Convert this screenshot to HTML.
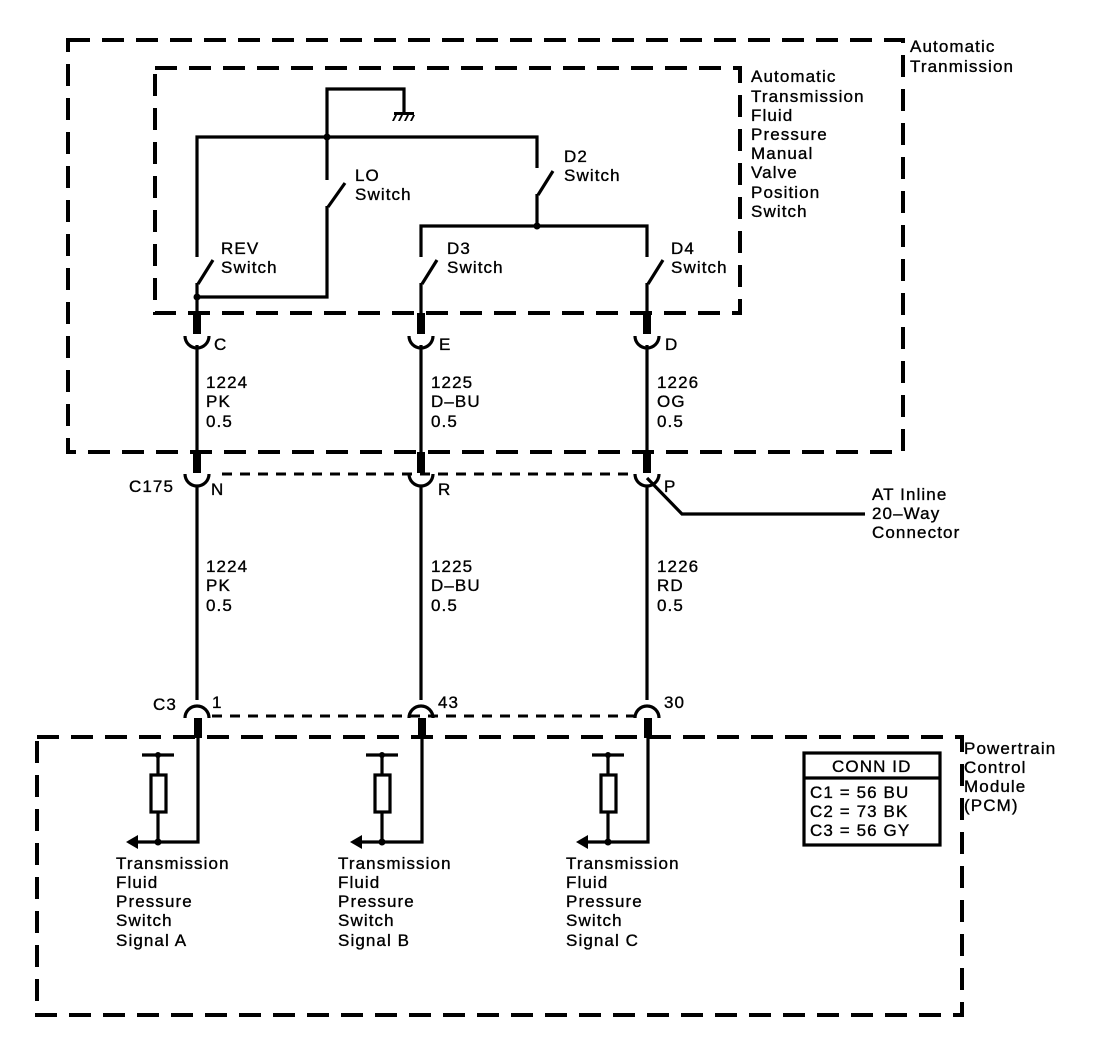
<!DOCTYPE html>
<html><head><meta charset="utf-8"><style>
html,body{margin:0;padding:0;background:#fff}
svg{display:block}
text{font-family:"Liberation Sans",Arial,sans-serif;font-size:17px;fill:#000;stroke:#000;stroke-width:0.35px;letter-spacing:1.1px}
</style></head><body>
<svg width="1120" height="1052" viewBox="0 0 1120 1052" xmlns="http://www.w3.org/2000/svg">
<g fill="none" stroke="#000">
<rect x="68" y="40" width="835" height="412" stroke-width="4" stroke-dasharray="22,12"/>
<rect x="155" y="68" width="585" height="245" stroke-width="4" stroke-dasharray="22,12"/>
<rect x="37" y="737" width="925" height="278" stroke-width="4" stroke-dasharray="22,12"/>
<line x1="222" y1="474" x2="635" y2="474" stroke-width="3" stroke-dasharray="10,8"/>
<line x1="212" y1="716" x2="636" y2="716" stroke-width="3" stroke-dasharray="10,8"/>
</g>
<g fill="none" stroke="#000" stroke-width="3.2">
<polyline points="327,136 327,89 404,89 404,112"/>
<polyline points="197,257 197,137 537,137 537,168"/>
<line x1="327" y1="137" x2="327" y2="180"/>
<line x1="345" y1="183" x2="328" y2="207"/>
<polyline points="327,206 327,297 197,297"/>
<line x1="553" y1="171" x2="538" y2="195"/>
<line x1="537" y1="194" x2="537" y2="226"/>
<polyline points="421,257 421,226 647,226 647,257"/>
<line x1="213" y1="260" x2="198" y2="284"/>
<line x1="197" y1="283" x2="197" y2="313"/>
<line x1="437" y1="260" x2="422" y2="284"/>
<line x1="421" y1="283" x2="421" y2="313"/>
<line x1="663" y1="260" x2="648" y2="284"/>
<line x1="647" y1="283" x2="647" y2="313"/>
<line x1="197" y1="345" x2="197" y2="452"/>
<line x1="421" y1="345" x2="421" y2="452"/>
<line x1="647" y1="345" x2="647" y2="452"/>
<line x1="197" y1="485" x2="197" y2="700"/>
<line x1="421" y1="485" x2="421" y2="700"/>
<line x1="647" y1="485" x2="647" y2="700"/>
<polyline points="647,478 682,514 865,514"/>
<path d="M185,336 A12,12 0 0 0 209,336"/>
<path d="M409,336 A12,12 0 0 0 433,336"/>
<path d="M635,336 A12,12 0 0 0 659,336"/>
<path d="M185,474 A12,12 0 0 0 209,474"/>
<path d="M409,474 A12,12 0 0 0 433,474"/>
<path d="M635,474 A12,12 0 0 0 659,474"/>
<path d="M185,718 A12,12 0 0 1 209,718"/>
<path d="M409,718 A12,12 0 0 1 433,718"/>
<path d="M635,718 A12,12 0 0 1 659,718"/>
<polyline points="198,737 198,842 134,842"/>
<polyline points="422,737 422,842 358,842"/>
<polyline points="648,737 648,842 584,842"/>
<line x1="142" y1="755" x2="174" y2="755"/><line x1="158" y1="755" x2="158" y2="775"/><rect x="151" y="775" width="15" height="37"/><line x1="158" y1="812" x2="158" y2="842"/>
<line x1="366" y1="755" x2="398" y2="755"/><line x1="382" y1="755" x2="382" y2="775"/><rect x="375" y="775" width="15" height="37"/><line x1="382" y1="812" x2="382" y2="842"/>
<line x1="592" y1="755" x2="624" y2="755"/><line x1="608" y1="755" x2="608" y2="775"/><rect x="601" y="775" width="15" height="37"/><line x1="608" y1="812" x2="608" y2="842"/>
<rect x="804" y="753" width="136" height="92"/>
<line x1="804" y1="778" x2="940" y2="778"/>
</g>
<g fill="#000">
<path d="M394,112 h20 v3 h-20z M395,115 l-3,6 h2 l3,-6z M401,115 l-3,6 h2 l3,-6z M407,115 l-3,6 h2 l3,-6z M413,115 l-3,6 h2 l3,-6z"/>
<circle cx="327" cy="137" r="3.5"/><circle cx="537" cy="226" r="3.5"/><circle cx="197" cy="297" r="3.5"/>
<rect x="193" y="313" width="8" height="21"/><rect x="417" y="313" width="8" height="21"/><rect x="643" y="313" width="8" height="21"/>
<rect x="193" y="452" width="8" height="21"/><rect x="417" y="452" width="8" height="21"/><rect x="643" y="452" width="8" height="21"/>
<rect x="194" y="718" width="8" height="20"/><rect x="418" y="718" width="8" height="20"/><rect x="644" y="718" width="8" height="20"/>
<circle cx="158" cy="755" r="3"/><circle cx="382" cy="755" r="3"/><circle cx="608" cy="755" r="3"/>
<circle cx="158" cy="842" r="3.5"/><circle cx="382" cy="842" r="3.5"/><circle cx="608" cy="842" r="3.5"/>
<path d="M126,842 l12,-7 v14z"/><path d="M350,842 l12,-7 v14z"/><path d="M576,842 l12,-7 v14z"/>
</g>
<g>
<text x="910" y="52">Automatic</text><text x="910" y="72">Tranmission</text>
<text x="751" y="82">Automatic</text><text x="751" y="102">Transmission</text><text x="751" y="121">Fluid</text><text x="751" y="140">Pressure</text><text x="751" y="159">Manual</text><text x="751" y="178">Valve</text><text x="751" y="198">Position</text><text x="751" y="217">Switch</text>
<text x="355" y="181">LO</text><text x="355" y="200">Switch</text>
<text x="564" y="162">D2</text><text x="564" y="181">Switch</text>
<text x="221" y="254">REV</text><text x="221" y="273">Switch</text>
<text x="447" y="254">D3</text><text x="447" y="273">Switch</text>
<text x="671" y="254">D4</text><text x="671" y="273">Switch</text>
<text x="214" y="350">C</text><text x="439" y="350">E</text><text x="665" y="350">D</text>
<text x="206" y="388">1224</text><text x="206" y="407">PK</text><text x="206" y="427">0.5</text>
<text x="431" y="388">1225</text><text x="431" y="407">D–BU</text><text x="431" y="427">0.5</text>
<text x="657" y="388">1226</text><text x="657" y="407">OG</text><text x="657" y="427">0.5</text>
<text x="129" y="492">C175</text><text x="211" y="495">N</text><text x="438" y="495">R</text><text x="664" y="492">P</text>
<text x="872" y="500">AT Inline</text><text x="872" y="519">20–Way</text><text x="872" y="538">Connector</text>
<text x="206" y="572">1224</text><text x="206" y="591">PK</text><text x="206" y="611">0.5</text>
<text x="431" y="572">1225</text><text x="431" y="591">D–BU</text><text x="431" y="611">0.5</text>
<text x="657" y="572">1226</text><text x="657" y="591">RD</text><text x="657" y="611">0.5</text>
<text x="153" y="710">C3</text><text x="212" y="708">1</text><text x="438" y="708">43</text><text x="664" y="708">30</text>
<text x="964" y="754">Powertrain</text><text x="964" y="773">Control</text><text x="964" y="792">Module</text><text x="964" y="811">(PCM)</text>
<text x="832" y="772">CONN ID</text>
<text x="810" y="798">C1 = 56 BU</text><text x="810" y="817">C2 = 73 BK</text><text x="810" y="836">C3 = 56 GY</text>
<text x="116" y="869">Transmission</text><text x="116" y="888">Fluid</text><text x="116" y="907">Pressure</text><text x="116" y="926">Switch</text><text x="116" y="946">Signal A</text>
<text x="338" y="869">Transmission</text><text x="338" y="888">Fluid</text><text x="338" y="907">Pressure</text><text x="338" y="926">Switch</text><text x="338" y="946">Signal B</text>
<text x="566" y="869">Transmission</text><text x="566" y="888">Fluid</text><text x="566" y="907">Pressure</text><text x="566" y="926">Switch</text><text x="566" y="946">Signal C</text>
</g>
</svg>
</body></html>
